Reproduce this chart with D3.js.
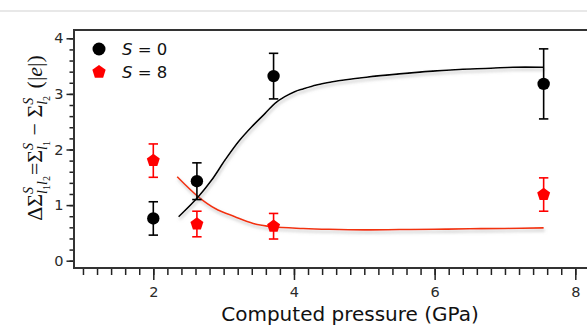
<!DOCTYPE html>
<html>
<head>
<meta charset="utf-8">
<script src="https://cdn.jsdelivr.net/npm/d3@7"></script>
<style>
  body { margin: 0; background: #fff; }
  svg { display: block; }
</style>
</head>
<body>
<div id="chart"></div>
<script>

// measured points
var pressures = [2.0, 2.62, 3.71, 7.55];
var s0Values = [0.76, 1.43, 3.32, 3.18];
var s0Errors = [0.30, 0.33, 0.41, 0.63];
var s8Values = [1.80, 0.66, 0.62, 1.19];
var s8Errors = [0.30, 0.23, 0.23, 0.30];

// fitted curves
var s0FitX = [2.36, 2.64, 2.83, 3.02, 3.21, 3.40, 3.59, 3.73, 3.87, 4.01, 4.13, 4.32, 4.55, 5.03, 5.5, 5.97, 6.35, 6.8, 7.11, 7.55];
var s0FitY = [0.79, 1.15, 1.45, 1.81, 2.14, 2.41, 2.65, 2.83, 2.95, 3.04, 3.09, 3.16, 3.22, 3.30, 3.36, 3.41, 3.44, 3.46, 3.48, 3.48];
var s8FitX = [2.34, 2.64, 2.88, 3.16, 3.42, 3.7, 4.13, 4.5, 5.0, 5.5, 6.0, 6.5, 7.0, 7.55];
var s8FitY = [1.51, 1.15, 0.94, 0.79, 0.67, 0.61, 0.58, 0.565, 0.555, 0.56, 0.565, 0.575, 0.58, 0.59];

var xMajor = [2, 4, 6, 8];
var yMajor = [0, 1, 2, 3, 4];
var legendLabels = ["0", "8"];

var width = 587, height = 331;
var margin = {left: 74, top: 30, bottom: 268};
var black = "#000", red = "#ff0000", redLine = "#f2330f";

var svg = d3.select("#chart").append("svg")
  .attr("width", width)
  .attr("height", height);

var defs = svg.append("defs");
var f = defs.append("filter").attr("id", "shadow")
  .attr("x", "-5%").attr("y", "-20%").attr("width", "110%").attr("height", "160%");
f.append("feDropShadow")
  .attr("dx", 1).attr("dy", 2.5).attr("stdDeviation", 1.6)
  .attr("flood-color", "#888").attr("flood-opacity", 0.55);

// faint rule across the top
svg.append("rect").attr("x", 0).attr("y", 10).attr("width", width).attr("height", 2).attr("fill", "#e8e8e8");

var x = d3.scaleLinear().domain([2, 8]).range([153.3, 575.3]);
var y = d3.scaleLinear().domain([0, 4]).range([260.7, 38.3]);
var xRight = x(8.25);

// minor ticks every 0.2
var xMinor = d3.range(1, 8.21, 0.2).map(function(v){ return +v.toFixed(1); });
var yMinor = d3.range(0, 4.01, 0.2).map(function(v){ return +v.toFixed(1); });

function styleAxis(g){
  g.select(".domain").remove();
  g.selectAll("line").attr("stroke", "#222").attr("stroke-width", 1.5);
  g.selectAll("text").attr("fill", "#2a2a2a")
    .style("font-family", "'DejaVu Sans', sans-serif").style("font-size", "14.5px");
}

svg.append("g").attr("transform", "translate(0," + (margin.bottom + 1) + ")")
  .call(d3.axisBottom(x).tickValues(xMinor).tickSize(6).tickFormat(""))
  .call(styleAxis);
svg.append("g").attr("transform", "translate(0," + (margin.bottom + 1) + ")")
  .call(d3.axisBottom(x).tickValues(xMajor).tickSize(11).tickPadding(7).tickFormat(d3.format("d")))
  .call(styleAxis);

svg.append("g").attr("transform", "translate(" + (margin.left - 1) + ",0)")
  .call(d3.axisLeft(y).tickValues(yMinor).tickSize(3.5).tickFormat(""))
  .call(styleAxis);
svg.append("g").attr("transform", "translate(" + (margin.left - 1) + ",0)")
  .call(d3.axisLeft(y).tickValues(yMajor).tickSize(6.5).tickPadding(3).tickFormat(d3.format("d")))
  .call(styleAxis);

// frame
svg.append("rect")
  .attr("x", margin.left).attr("y", margin.top)
  .attr("width", xRight - margin.left).attr("height", margin.bottom - margin.top)
  .attr("fill", "none").attr("stroke", "#333").attr("stroke-width", 2);

// fit curves
var line = d3.line()
  .x(function(d){ return x(d[0]); })
  .y(function(d){ return y(d[1]); })
  .curve(d3.curveCatmullRom.alpha(0.5));

svg.append("path")
  .datum(d3.zip(s8FitX, s8FitY))
  .attr("d", line).attr("fill", "none")
  .attr("stroke", redLine).attr("stroke-width", 1.6)
  .attr("filter", "url(#shadow)");
svg.append("path")
  .datum(d3.zip(s0FitX, s0FitY))
  .attr("d", line).attr("fill", "none")
  .attr("stroke", black).attr("stroke-width", 1.6)
  .attr("filter", "url(#shadow)");

function pentagon(r){
  return d3.range(5).map(function(i){
    var a = -Math.PI / 2 + i * 2 * Math.PI / 5;
    return [r * Math.cos(a), r * Math.sin(a)].join(",");
  }).join(" ");
}

function errorBars(vals, errs, color){
  var g = svg.append("g").attr("stroke", color).attr("stroke-width", 1.6);
  pressures.forEach(function(p, i){
    var cx = x(p), top = y(vals[i] + errs[i]), bot = y(vals[i] - errs[i]);
    g.append("line").attr("x1", cx).attr("x2", cx).attr("y1", top).attr("y2", bot);
    g.append("line").attr("x1", cx - 4.7).attr("x2", cx + 4.7).attr("y1", top).attr("y2", top);
    g.append("line").attr("x1", cx - 4.7).attr("x2", cx + 4.7).attr("y1", bot).attr("y2", bot);
  });
}

errorBars(s8Values, s8Errors, red);
errorBars(s0Values, s0Errors, black);

svg.append("g").selectAll("polygon")
  .data(d3.zip(pressures, s8Values))
  .enter().append("polygon")
  .attr("transform", function(d){ return "translate(" + x(d[0]) + "," + y(d[1]) + ")"; })
  .attr("points", pentagon(6.8))
  .attr("fill", red);

svg.append("g").selectAll("circle")
  .data(d3.zip(pressures, s0Values))
  .enter().append("circle")
  .attr("cx", function(d){ return x(d[0]); })
  .attr("cy", function(d){ return y(d[1]); })
  .attr("r", 6.2)
  .attr("fill", black);

// legend
var legend = svg.append("g").style("font-family", "'DejaVu Sans', sans-serif").style("font-size", "16.5px");
legend.append("circle").attr("cx", 99).attr("cy", 49).attr("r", 6.5).attr("fill", black);
legend.append("polygon").attr("transform", "translate(99,72)").attr("points", pentagon(7)).attr("fill", red);
legendLabels.forEach(function(lab, i){
  var t = legend.append("text").attr("x", 122).attr("y", 55 + i * 23).attr("fill", "#111");
  t.append("tspan").style("font-style", "italic").text("S");
  t.append("tspan").text(" = " + lab);
});

// x axis title
svg.append("text")
  .attr("x", 350).attr("y", 321)
  .attr("text-anchor", "middle")
  .style("font-family", "'DejaVu Sans', sans-serif").style("font-size", "20px")
  .attr("fill", "#111")
  .text("Computed pressure (GPa)");

// y axis title (math, built from pieces)
var ySegs = [
  {t: "ΔΣ"},
  {t: "S", s: 14, off: -9, it: true},
  {t: "l", s: 14, off: 5, it: true, dx: -7},
  {t: "1", s: 10, off: 8},
  {t: "l", s: 14, off: 5, it: true},
  {t: "2", s: 10, off: 8},
  {t: "=Σ", dx: 1},
  {t: "S", s: 14, off: -9, it: true},
  {t: "l", s: 14, off: 5, it: true, dx: -7},
  {t: "1", s: 10, off: 8},
  {t: " − Σ"},
  {t: "S", s: 14, off: -9, it: true},
  {t: "l", s: 14, off: 5, it: true, dx: -7},
  {t: "2", s: 10, off: 8},
  {t: " (|", dx: 2},
  {t: "e", it: true},
  {t: "|)"}
];
var yt = svg.append("text")
  .attr("transform", "translate(42,138) rotate(-90)")
  .attr("text-anchor", "middle")
  .style("font-family", "'Liberation Serif', serif").style("font-size", "22px")
  .attr("fill", "#111");
var prev = 0;
ySegs.forEach(function(s){
  var off = s.off || 0;
  var ts = yt.append("tspan").attr("dy", off - prev).text(s.t);
  if (s.s) ts.style("font-size", s.s + "px");
  if (s.it) ts.style("font-style", "italic");
  if (s.dx) ts.attr("dx", s.dx);
  prev = off;
});

</script>
</body>
</html>
